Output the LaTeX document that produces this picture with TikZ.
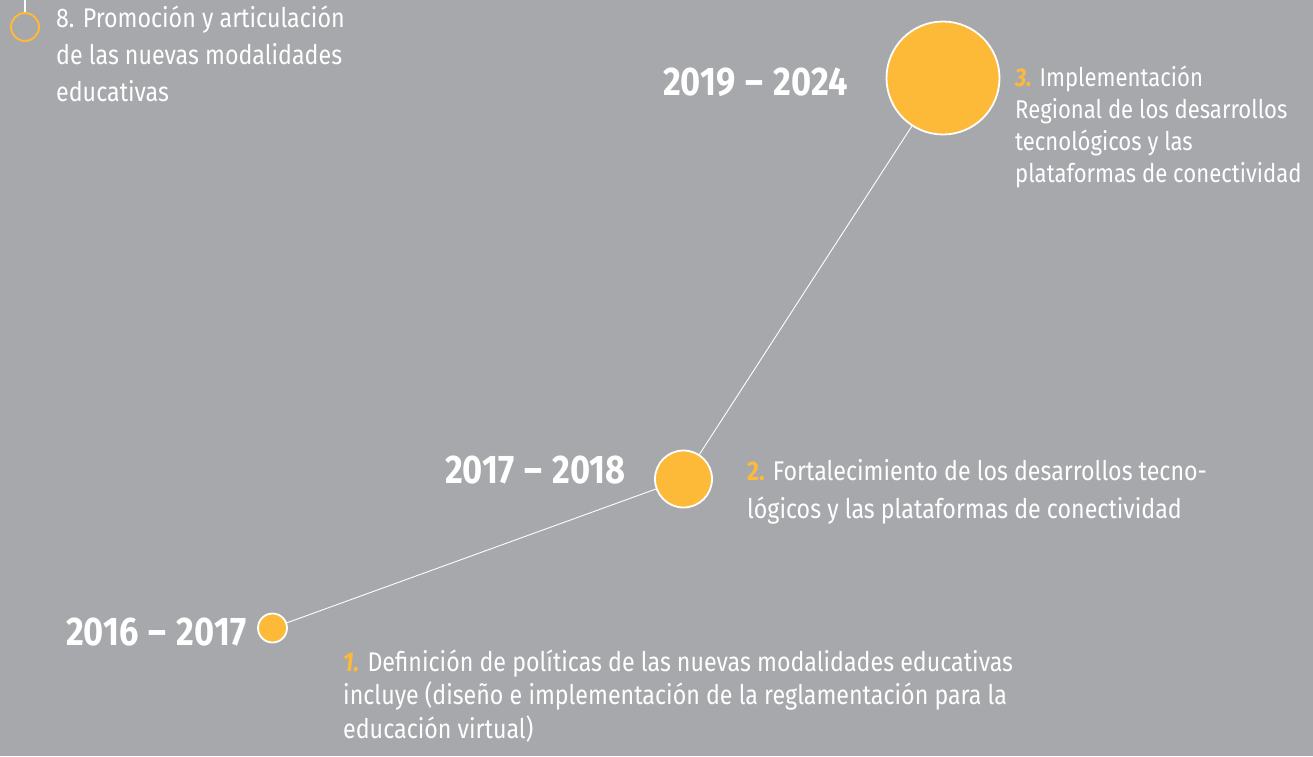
\documentclass[tikz,border=0pt]{standalone}
\usepackage{fontspec}
\setmainfont[FakeStretch=0.86]{Fira Sans}
\definecolor{bg}{RGB}{167,168,172}
\definecolor{gold}{RGB}{253,186,56}
\newcommand{\yrdash}{\hspace{2pt} – \hspace{2pt}}
\begin{document}
\begin{tikzpicture}[x=1pt,y=-1pt,
  dot/.style={circle,fill=gold,draw=white,line width=1.8pt,inner sep=0pt},
  link/.style={white,line width=0.9pt},
  year/.style={anchor=base west,inner sep=0pt,text=white,font=\fontsize{40}{44}\selectfont\bfseries},
  desc/.style={anchor=base west,inner sep=0pt,text=white,align=left}]
\fill[bg] (0,0) rectangle (1313,756);
\useasboundingbox (0,0) rectangle (1313,756);

% top-left marker
\node[circle,draw=gold,line width=2pt,minimum size=28pt,inner sep=0pt] (c8) at (25,27) {};
\coordinate (top8) at (25,0);
\draw[white,line width=1.2pt] (top8) -- (c8);
% anchor base = baseline of last line
\node[desc,font=\fontsize{27}{37}\selectfont] (t8) at (56,101)
  {8. Promoción y articulación\\de las nuevas modalidades\\educativas};

% circles
\node[dot,minimum size=29pt] (c1) at (272.5,628) {};
\node[dot,minimum size=57pt] (c2) at (683.5,479) {};
\node[dot,minimum size=113pt] (c3) at (943,78) {};
\draw[link] (c1) -- (c2);
\draw[link] (c2) -- (c3);

% years
\node[year] (y1) at (66,645) {2016\yrdash2017};
\node[year] (y2) at (445,483) {2017\yrdash2018};
\node[year] (y3) at (663,95) {2019\yrdash2024};

% descriptions
\node[desc,font=\fontsize{27}{33.5}\selectfont] (d1) at (343,738)
  {{\color{gold}\bfseries\itshape 1.} Definición de políticas de las nuevas modalidades educativas\\incluye (diseño e implementación de la reglamentación para la\\educación virtual)};
\node[desc,font=\fontsize{27}{38}\selectfont] (d2) at (747,518)
  {{\color{gold}\bfseries 2.} Fortalecimiento de los desarrollos tecno-\\lógicos y las plataformas de conectividad};
\node[desc,font=\fontsize{25.7}{32}\selectfont] (d3) at (1015,182)
  {{\color{gold}\bfseries\itshape 3.} Implementación\\Regional de los desarrollos\\tecnológicos y las\\plataformas de conectividad};
\end{tikzpicture}
\end{document}
